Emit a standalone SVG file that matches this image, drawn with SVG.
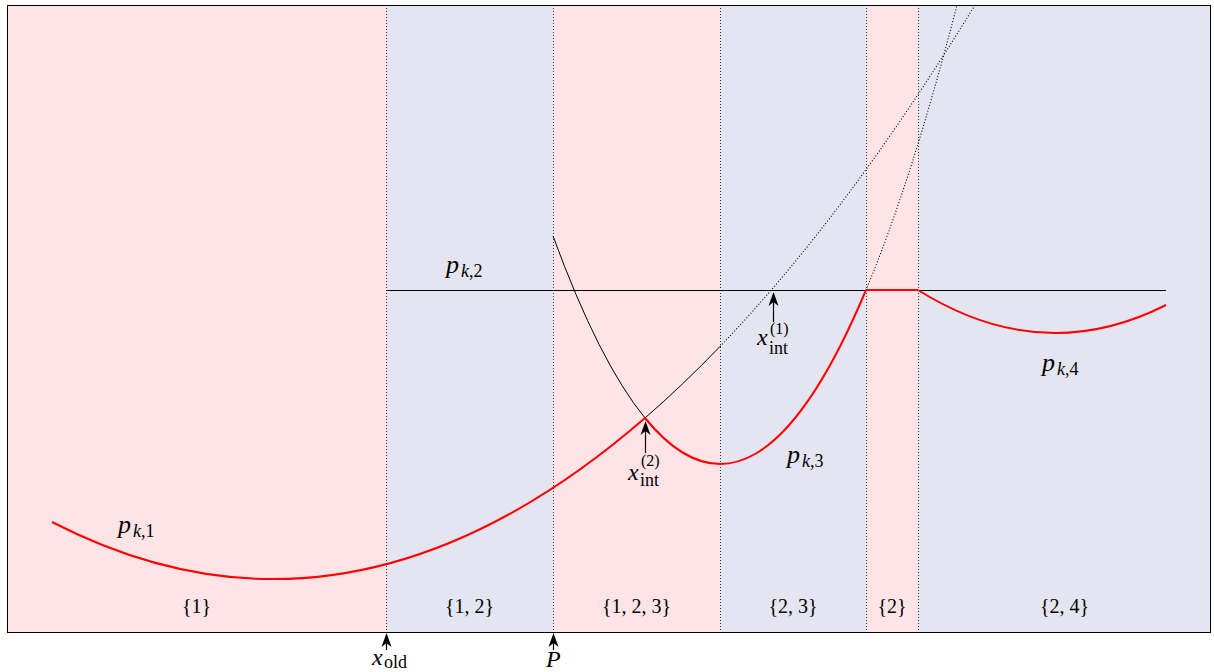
<svg xmlns="http://www.w3.org/2000/svg" width="1214" height="672" viewBox="0 0 1214 672">
<style>
.pink{fill:#fee4e6}
.blue{fill:#e5e5f1}
.vdot{stroke:#333;stroke-width:1;stroke-dasharray:1 2;fill:none}
.thin{stroke:#000;stroke-width:1;fill:none}
.dot{stroke:#000;stroke-width:1.1;stroke-dasharray:1 2;fill:none}
.red{stroke:#f00;stroke-width:2;fill:none}
.arr{stroke:#000;stroke-width:1.2;fill:none;marker-end:url(#ah)}
text{font-family:"Liberation Serif","DejaVu Serif",serif;fill:#000}
.set{font-size:20px;text-anchor:middle}
.pl{font-size:26px;font-style:italic}
.ps{font-size:18px}
.xm{font-size:24px;font-style:italic}
.xs{font-size:18px}
.xp{font-size:16px}
</style>
<defs>
<marker id="ah" viewBox="-16 -6 17 12" refX="-3" refY="0" markerWidth="17" markerHeight="12" orient="auto" markerUnits="userSpaceOnUse">
<path d="M0,0 L-14,-5 L-10,0 L-14,5 Z" fill="#000"/>
</marker>
</defs>
<g id="regions">
<rect class="pink" x="7" y="5" width="379" height="628"/>
<rect class="blue" x="386" y="5" width="167" height="628"/>
<rect class="pink" x="553" y="5" width="167" height="628"/>
<rect class="blue" x="720" y="5" width="146" height="628"/>
<rect class="pink" x="866" y="5" width="52" height="628"/>
<rect class="blue" x="918" y="5" width="293" height="628"/>
</g>
<g id="dividers">
<line class="vdot" x1="386.5" y1="5" x2="386.5" y2="633"/>
<line class="vdot" x1="553.5" y1="5" x2="553.5" y2="633"/>
<line class="vdot" x1="720.5" y1="5" x2="720.5" y2="633"/>
<line class="vdot" x1="866.5" y1="5" x2="866.5" y2="633"/>
<line class="vdot" x1="918.5" y1="5" x2="918.5" y2="633"/>
</g>
<g id="connectors">
<path id="p1-solid" class="thin" d="M645,418 Q682.5,385.5 720,346.5"/>
<path id="p1-dotted" class="dot" d="M720,346.5 Q847.5,213.7 975,5"/>
<path id="p2-line" class="thin" d="M386,290.5 L1166,290.5"/>
<path id="p3-solid" class="thin" d="M553,236 Q599,361.6 645,418"/>
<path id="p3-dotted" class="dot" d="M866,290 Q911.5,181.5 957,5"/>
<path id="min-p1" class="red" d="M52,522 Q348.5,675 645,418"/>
<path id="min-p3" class="red" d="M645,418 Q755.5,553.5 866,290"/>
<path id="min-p2" class="red" d="M866,290 L918,290"/>
<path id="min-p4" class="red" d="M918,290 Q1042,367.7 1166,305"/>
<line class="arr" x1="386.5" y1="650" x2="386.5" y2="636"/>
<line class="arr" x1="553.5" y1="650" x2="553.5" y2="636"/>
<line class="arr" x1="645.5" y1="453" x2="645.5" y2="424"/>
<line class="arr" x1="773.5" y1="322" x2="773.5" y2="295"/>
</g>
<rect id="frame" x="7.5" y="5.5" width="1203" height="627" fill="none" stroke="#000" stroke-width="1"/>
<g id="set-labels">
<text class="set" x="196.5" y="613">{1}</text>
<text class="set" x="469.5" y="613">{1, 2}</text>
<text class="set" x="636.5" y="613">{1, 2, 3}</text>
<text class="set" x="793" y="613">{2, 3}</text>
<text class="set" x="892" y="613">{2}</text>
<text class="set" x="1064.5" y="613">{2, 4}</text>
</g>
<g id="label-pk1"><text class="pl" x="118" y="533">p</text><text class="ps" x="133" y="537"><tspan font-style="italic">k</tspan>,1</text></g>
<g id="label-pk2"><text class="pl" x="446" y="273">p</text><text class="ps" x="461" y="277"><tspan font-style="italic">k</tspan>,2</text></g>
<g id="label-pk3"><text class="pl" x="787" y="463">p</text><text class="ps" x="802" y="467"><tspan font-style="italic">k</tspan>,3</text></g>
<g id="label-pk4"><text class="pl" x="1042" y="371">p</text><text class="ps" x="1057" y="375"><tspan font-style="italic">k</tspan>,4</text></g>
<g id="label-xint2"><text class="xm" x="628" y="480">x</text><text class="xs" x="640" y="486">int</text><text class="xp" x="641" y="466">(2)</text></g>
<g id="label-xint1"><text class="xm" x="757" y="345">x</text><text class="xs" x="769" y="354">int</text><text class="xp" x="770" y="334">(1)</text></g>
<g id="label-xold"><text class="xm" x="372" y="665">x</text><text class="xs" x="384" y="668">old</text></g>
<g id="label-P"><text class="xm" x="546" y="667">P</text></g>
</svg>
